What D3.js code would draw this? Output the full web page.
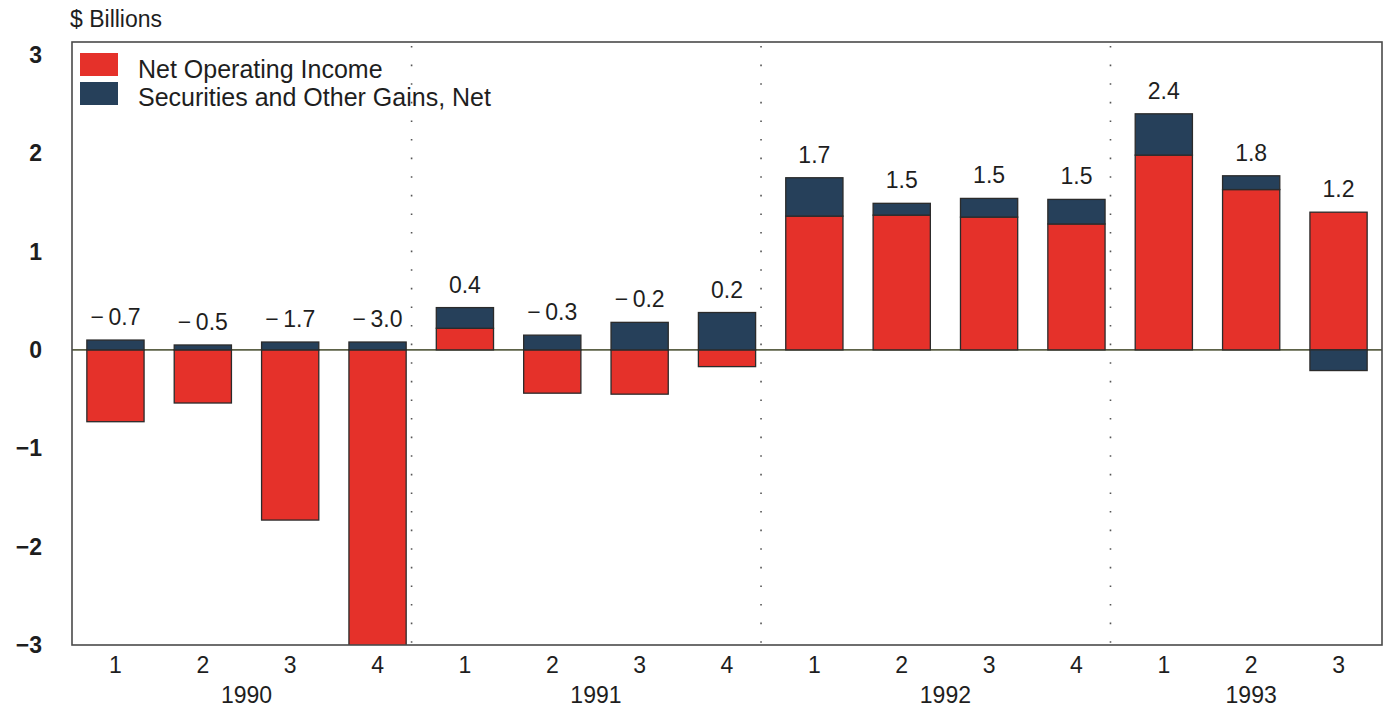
<!DOCTYPE html>
<html>
<head>
<meta charset="utf-8">
<script src="https://cdn.jsdelivr.net/npm/d3@7"></script>
<style>
  html, body { margin: 0; padding: 0; background: #ffffff; }
  svg { display: block; font-family: "Liberation Sans", Arial, Helvetica, sans-serif; }
</style>
</head>
<body>
<svg id="chart" width="1390" height="709"></svg>
<script>
// ---- data ----
const quarters = ["1","2","3","4","1","2","3","4","1","2","3","4","1","2","3"];
const years = ["1990","1990","1990","1990","1991","1991","1991","1991","1992","1992","1992","1992","1993","1993","1993"];
const netOperatingIncome = [-0.73, -0.54, -1.73, -3.07, 0.22, -0.44, -0.45, -0.17, 1.36, 1.37, 1.35, 1.28, 1.98, 1.63, 1.40];
const securitiesGains    = [ 0.10,  0.05,  0.08,  0.08, 0.21,  0.15,  0.28,  0.38, 0.39, 0.12, 0.19, 0.25, 0.42, 0.14, -0.21];
const totalLabels = ["\u2212\u20090.7","\u2212\u20090.5","\u2212\u20091.7","\u2212\u20093.0","0.4","\u2212\u20090.3","\u2212\u20090.2","0.2","1.7","1.5","1.5","1.5","2.4","1.8","1.2"];
const yTicks = [-3, -2, -1, 0, 1, 2, 3];
const yTickLabels = ["\u22123","\u22122","\u22121","0","1","2","3"];
const seriesNames = ["Net Operating Income", "Securities and Other Gains, Net"];
const seriesColors = ["#e5312a", "#26405a"];
const yearNames = ["1990","1991","1992","1993"];
const unitLabel = "$ Billions";

// ---- layout ----
const plot = { left: 72, right: 1382, top: 42, bottom: 645 };
const svg = d3.select("#chart");

const keys = quarters.map((q, i) => years[i] + "Q" + q);
const rows = keys.map((k, i) => ({ key: k, noi: netOperatingIncome[i], sec: securitiesGains[i] }));

const x = d3.scaleBand().domain(keys).range([plot.left, plot.right]).paddingInner(0.345).paddingOuter(0.17);
const y = d3.scaleLinear().domain([-3, 3.13]).range([plot.bottom, plot.top]);

const stack = d3.stack().keys(["noi", "sec"]).offset(d3.stackOffsetDiverging);
const stacked = stack(rows);

svg.append("defs").append("clipPath").attr("id", "plotclip")
  .append("rect").attr("x", plot.left).attr("y", plot.top)
  .attr("width", plot.right - plot.left).attr("height", plot.bottom - plot.top);

// year divider dotted lines
const step = x.step(), bw = x.bandwidth();
const dividerKeys = ["1990Q4", "1991Q4", "1992Q4"];
svg.append("g").selectAll("line").data(dividerKeys).join("line")
  .attr("x1", d => x(d) + bw + 0.18 * (step - bw))
  .attr("x2", d => x(d) + bw + 0.18 * (step - bw))
  .attr("y1", plot.top + 4).attr("y2", plot.bottom)
  .attr("stroke", "#555").attr("stroke-width", 1.6)
  .attr("stroke-dasharray", "1.6,17");

// zero line
svg.append("line")
  .attr("x1", plot.left).attr("x2", plot.right)
  .attr("y1", y(0)).attr("y2", y(0))
  .attr("stroke", "#5d6247").attr("stroke-width", 1.6);

// bars
const barG = svg.append("g").attr("clip-path", "url(#plotclip)");
stacked.forEach((layer, li) => {
  barG.append("g").selectAll("rect").data(layer).join("rect")
    .attr("x", d => x(d.data.key))
    .attr("width", bw)
    .attr("y", d => y(Math.max(d[0], d[1])))
    .attr("height", d => Math.abs(y(d[0]) - y(d[1])))
    .attr("fill", seriesColors[li])
    .attr("stroke", "#2b2b2b").attr("stroke-width", 1.3);
});

// frame
svg.append("rect")
  .attr("x", plot.left).attr("y", plot.top)
  .attr("width", plot.right - plot.left).attr("height", plot.bottom - plot.top)
  .attr("fill", "none").attr("stroke", "#4a4a4a").attr("stroke-width", 1.6);

// total labels
svg.append("g").selectAll("text").data(rows).join("text")
  .attr("x", d => x(d.key) + bw / 2)
  .attr("y", d => y(Math.max(0, d.noi > 0 ? d.noi : 0) + Math.max(0, d.sec)) - 15)
  .attr("text-anchor", "middle")
  .attr("font-size", 23).attr("fill", "#1e1e1e")
  .text((d, i) => totalLabels[i]);

// y axis labels
svg.append("g").selectAll("text").data(yTicks).join("text")
  .attr("x", 42).attr("y", d => y(d) + 8)
  .attr("text-anchor", "end")
  .attr("font-size", 23).attr("font-weight", "bold").attr("fill", "#1e1e1e")
  .text((d, i) => yTickLabels[i]);

// unit label
svg.append("text").attr("x", 70).attr("y", 27)
  .attr("font-size", 23).attr("fill", "#1e1e1e").text(unitLabel);

// x axis quarter labels
svg.append("g").selectAll("text").data(keys).join("text")
  .attr("x", d => x(d) + bw / 2).attr("y", 673)
  .attr("text-anchor", "middle")
  .attr("font-size", 23).attr("fill", "#1e1e1e")
  .text((d, i) => quarters[i]);

// year labels
svg.append("g").selectAll("text").data(yearNames).join("text")
  .attr("x", yr => d3.mean(keys.filter((k, i) => years[i] === yr), k => x(k) + bw / 2))
  .attr("y", 703)
  .attr("text-anchor", "middle")
  .attr("font-size", 23).attr("fill", "#1e1e1e")
  .text(d => d);

// legend
const lg = svg.append("g");
seriesNames.forEach((name, i) => {
  lg.append("rect").attr("x", 80).attr("y", 53 + i * 29).attr("width", 38).attr("height", 23)
    .attr("fill", seriesColors[i]);
  lg.append("text").attr("x", 138).attr("y", 78 + i * 28)
    .attr("font-size", 25).attr("fill", "#1e1e1e").text(name);
});
</script>
</body>
</html>
